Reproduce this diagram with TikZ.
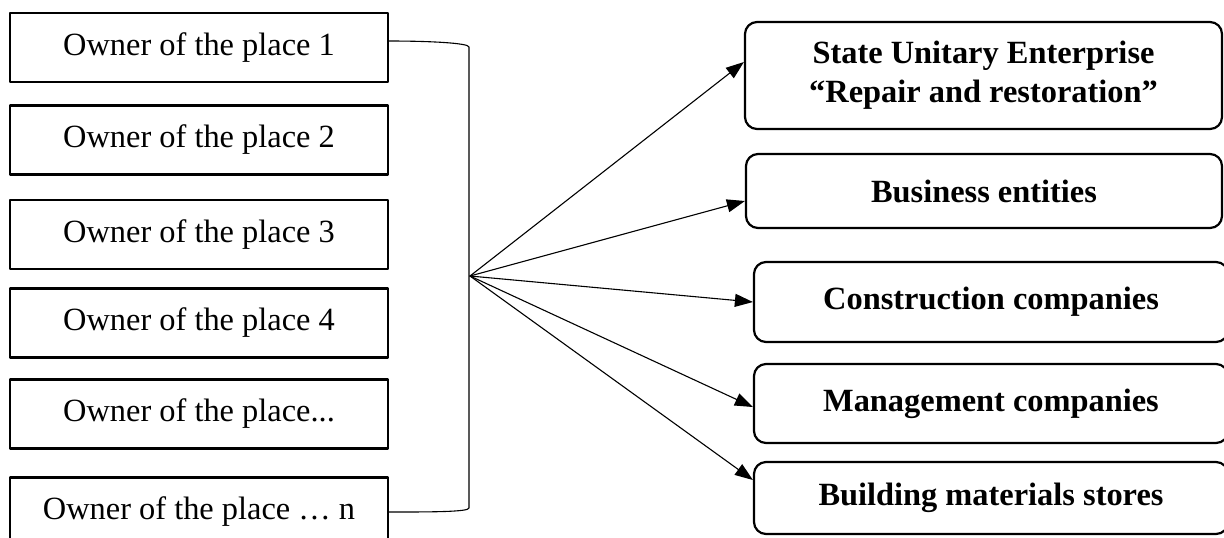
\documentclass[tikz,border=0pt]{standalone}
\usepackage{fontspec}
\setmainfont{Liberation Serif}
\usepackage{xcolor}
\usepackage{tikz}
\usetikzlibrary{arrows.meta,calc,positioning}
\definecolor{schemeline}{HTML}{000000}
\tikzset{
every picture/.style={line cap=round,line join=round},
owner box/.style={
  draw=schemeline,
  line width=1.2pt,
  minimum width=189pt,
  minimum height=34.5pt,
  align=center,
  inner sep=4pt,
  font=\fontsize{16.2}{19.5}\selectfont
},
partner box/.style={
  draw=schemeline,
  rounded corners=6pt,
  line width=1.1pt,
  minimum width=238pt,
  align=center,
  inner sep=4pt,
  font=\fontsize{16.2}{19.5}\selectfont\bfseries
},
fig link/.style={draw=schemeline, line width=0.55pt},
fig flow/.style={fig link, -{Triangle[length=9pt,width=6.5pt]}}
}

\begin{document}
\begin{tikzpicture}[x=0.5pt,y=-0.5pt]
\useasboundingbox (0,0) rectangle (1224,537);
\clip (0,0) rectangle (1224,537);
% owners of the places
\node[owner box] (own1) at (199,47.5) {Owner of the place 1};
\node[owner box] (own2) at (199,140) {Owner of the place 2};
\node[owner box] (own3) at (199,234.5) {Owner of the place 3};
\node[owner box] (own4) at (199,323) {Owner of the place 4};
\node[owner box] (own5) at (199,414) {Owner of the place...};
\node[owner box] (own6) at (199,512) {Owner of the place … n};
% organisations
\node[partner box,minimum width=238.5pt,minimum height=53.5pt] (sue) at (983.5,75.5) {State Unitary Enterprise\\“Repair and restoration”};
\node[partner box,minimum height=37pt] (biz) at (984,191) {Business entities};
\node[partner box,minimum width=237pt,minimum height=40pt] (constr) at (991,302) {Construction companies};
\node[partner box,minimum width=237pt,minimum height=39.5pt] (mgmt) at (991,403.5) {Management companies};
\node[partner box,minimum width=237pt,minimum height=36pt] (store) at (991,498) {Building materials stores};
% bracket and fan
\coordinate (brtop) at (469,47);
\coordinate (brbot) at (469,508);
\coordinate (fan) at (470,276);
\draw[fig link] ([yshift=3.25pt]own1.east) .. controls +(40,0) and +(0,-4) .. (brtop) -- (brbot) .. controls +(0,4) and +(40,0) .. (own6.east);
\draw[fig flow] (fan) -- ([yshift=6.75pt]sue.west);
\draw[fig flow] (fan) -- ([yshift=-5pt]biz.west);
\draw[fig flow] (fan) -- (constr.west);
\draw[fig flow] (fan) -- ([yshift=-1.75pt]mgmt.west);
\draw[fig flow] (fan) -- ([yshift=9pt]store.west);
\end{tikzpicture}
\end{document}
